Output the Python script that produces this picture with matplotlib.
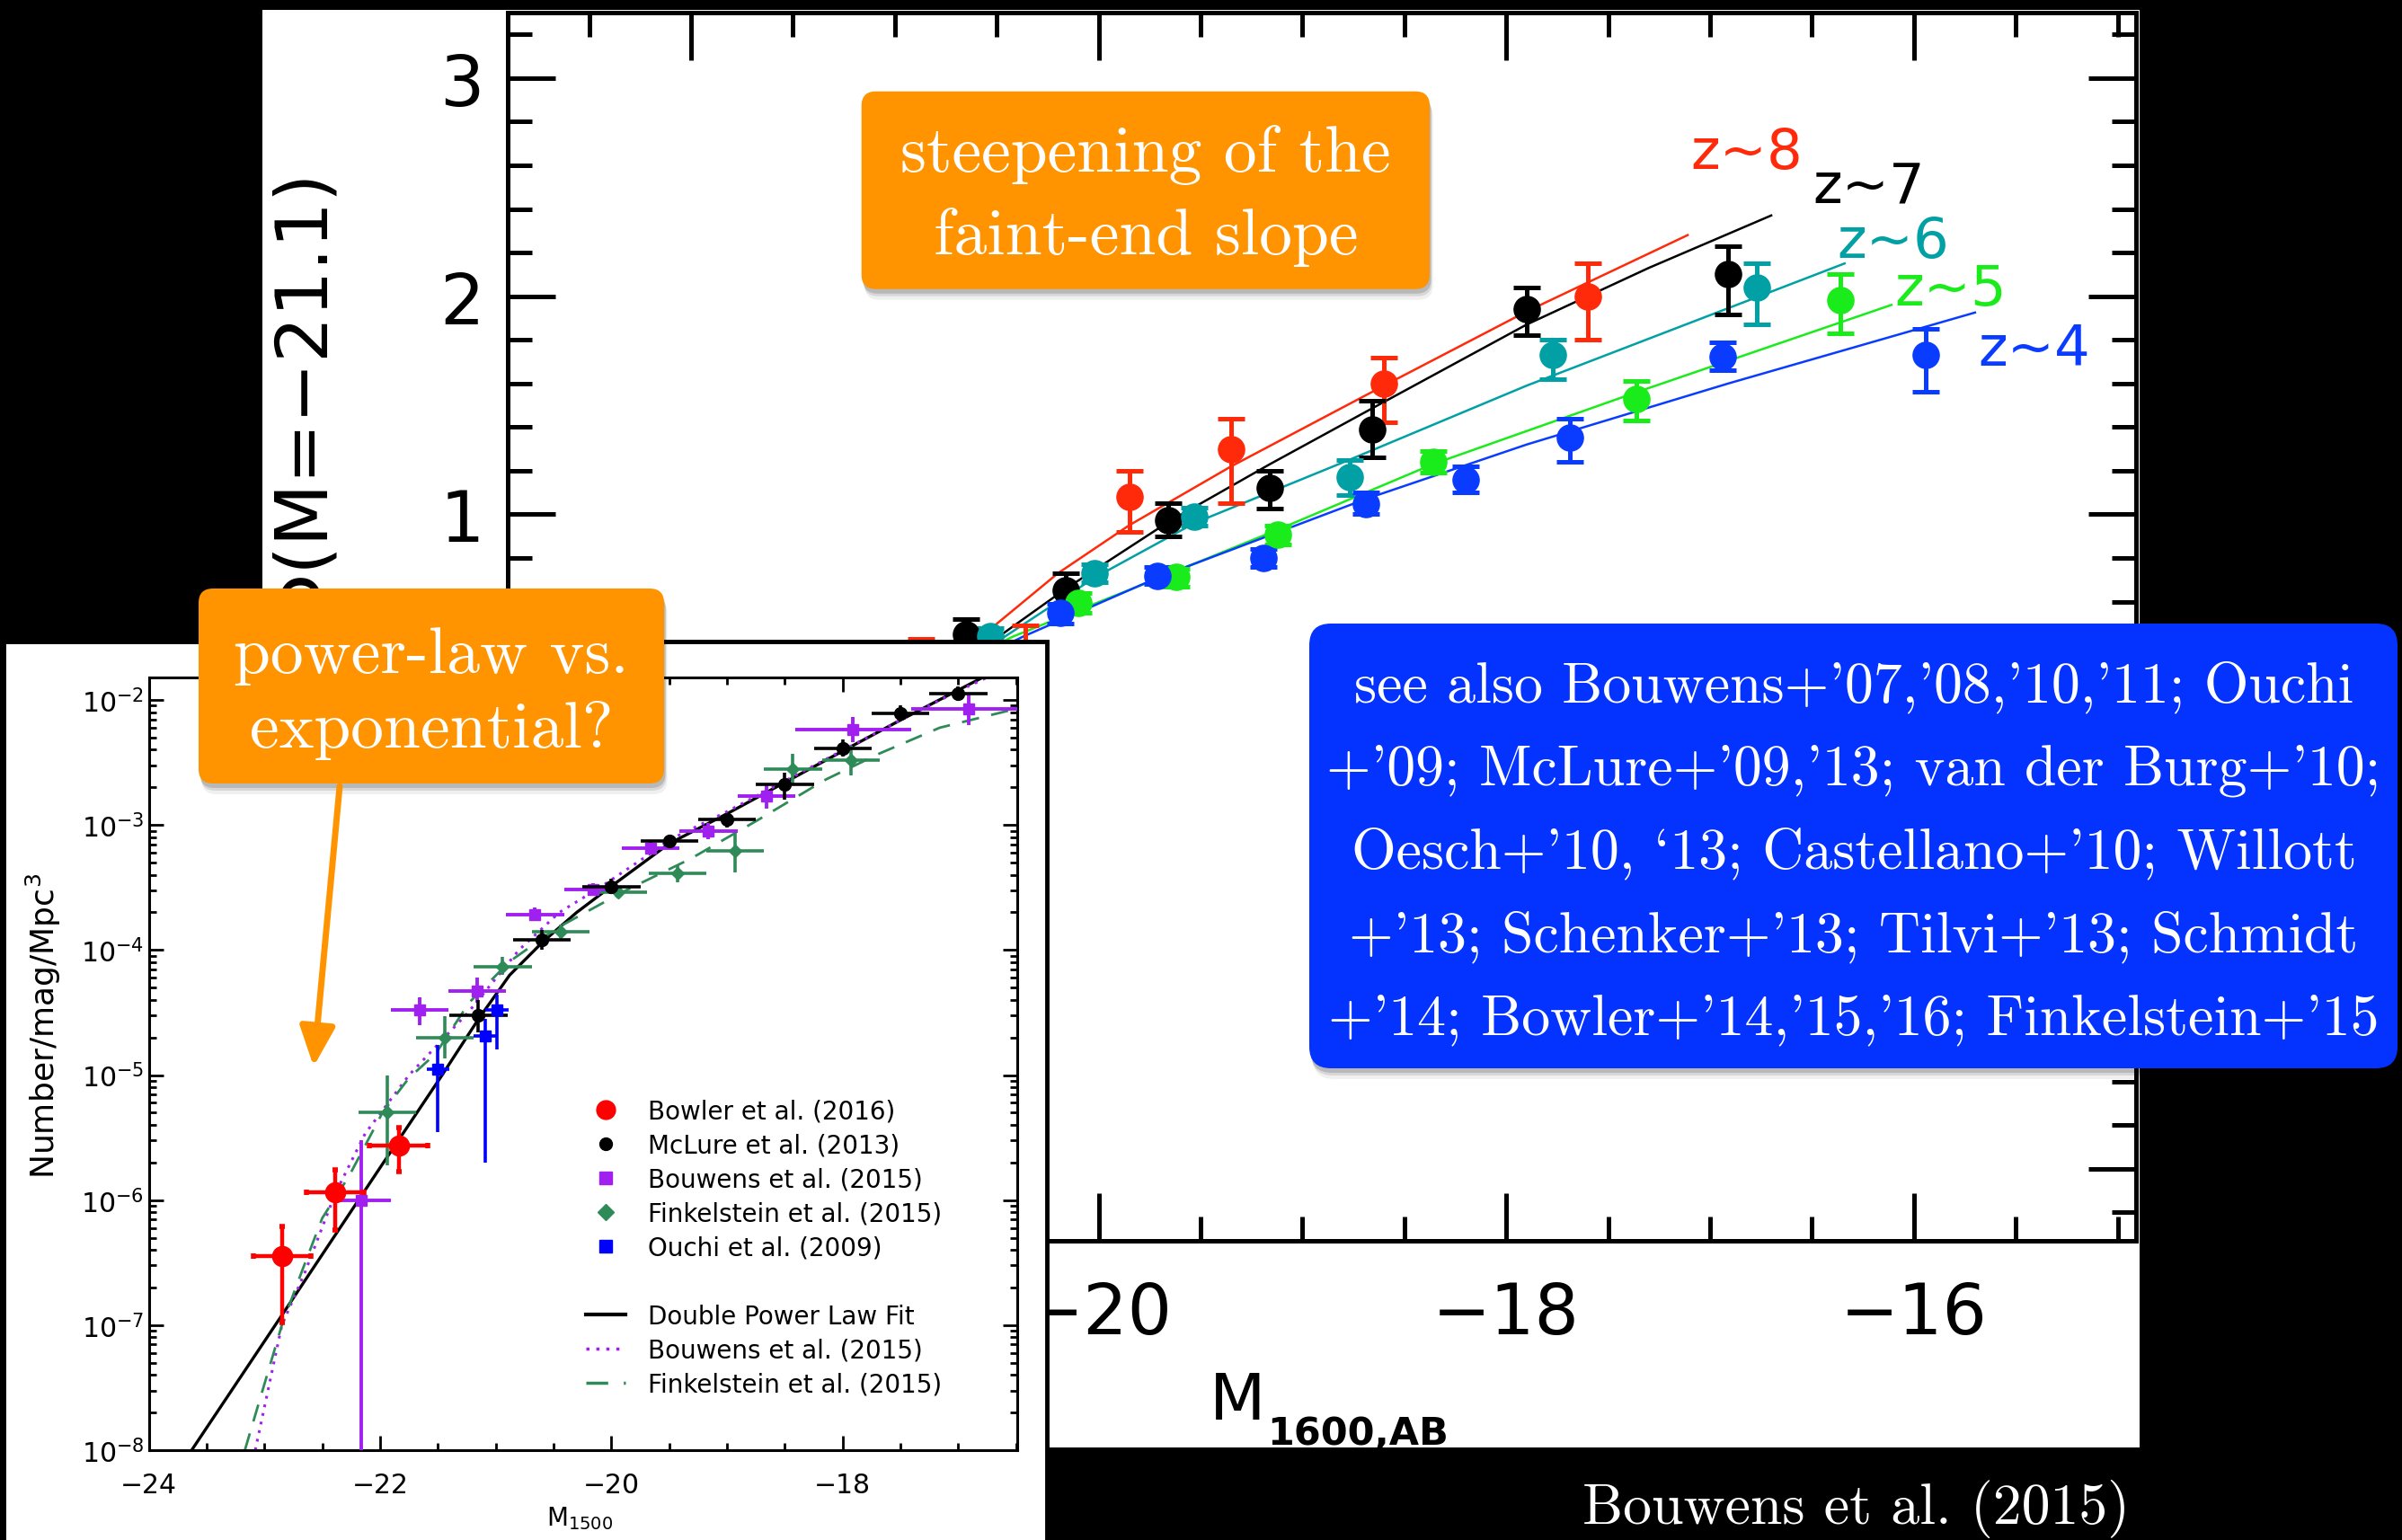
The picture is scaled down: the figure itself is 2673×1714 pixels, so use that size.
import numpy as np
import matplotlib
matplotlib.use("Agg")
import matplotlib.pyplot as plt
from matplotlib.patches import Rectangle, FancyBboxPatch, FancyArrowPatch
from matplotlib.lines import Line2D
from matplotlib.transforms import IdentityTransform
from matplotlib import ticker

plt.rcParams['font.family'] = ['DejaVu Sans']

W, H, DPI = 2673, 1715, 100

# ================= main panel data: Phi(M) / Phi(M=-21.1) =================
z8_M   = [-20.87, -20.36, -19.85, -19.35, -18.60, -17.60]
z8_val = [0.20, 0.30, 1.08, 1.30, 1.60, 2.00]
z8_lo  = [-0.03, 0.11, 0.92, 1.05, 1.42, 1.80]
z8_hi  = [0.43, 0.49, 1.20, 1.44, 1.72, 2.15]

z7_M   = [-20.65, -20.16, -19.66, -19.16, -18.66, -17.90, -16.91]
z7_val = [0.45, 0.65, 0.975, 1.12, 1.39, 1.94, 2.10]
z7_lo  = [0.38, 0.55, 0.90, 1.025, 1.26, 1.82, 1.915]
z7_hi  = [0.52, 0.73, 1.05, 1.20, 1.52, 2.04, 2.23]

z6_M   = [-20.53, -20.02, -19.53, -18.77, -17.77, -16.77]
z6_val = [0.44, 0.73, 0.99, 1.17, 1.73, 2.04]
z6_lo  = [0.40, 0.69, 0.95, 1.09, 1.62, 1.87]
z6_hi  = [0.48, 0.77, 1.03, 1.25, 1.80, 2.15]

z5_M   = [-20.10, -19.62, -19.12, -18.36, -17.36, -16.36]
z5_val = [0.595, 0.712, 0.907, 1.241, 1.530, 1.984]
z5_lo  = [0.55, 0.67, 0.86, 1.19, 1.43, 1.83]
z5_hi  = [0.64, 0.75, 0.95, 1.29, 1.61, 2.10]

z4_M   = [-20.19, -19.71, -19.19, -18.69, -18.20, -17.69, -16.94, -15.94]
z4_val = [0.547, 0.719, 0.801, 1.049, 1.159, 1.351, 1.722, 1.729]
z4_lo  = [0.50, 0.68, 0.76, 1.00, 1.10, 1.24, 1.66, 1.56]
z4_hi  = [0.59, 0.76, 0.84, 1.10, 1.22, 1.44, 1.79, 1.85]

z8_fit_M = [-21.00, -20.55, -20.20, -19.85, -19.35, -18.60, -17.90, -17.11]
z8_fit   = [0.05, 0.46, 0.73, 0.95, 1.22, 1.59, 1.93, 2.28]
z7_fit_M = [-20.90, -20.46, -20.16, -19.65, -19.16, -18.65, -17.90, -17.30, -16.70]
z7_fit   = [0.12, 0.46, 0.66, 0.97, 1.23, 1.49, 1.87, 2.13, 2.37]
z6_fit_M = [-20.90, -20.46, -20.02, -19.53, -18.77, -17.90, -16.34]
z6_fit   = [0.15, 0.44, 0.71, 0.96, 1.25, 1.59, 2.15]
z5_fit_M = [-20.90, -20.42, -19.62, -19.12, -18.36, -17.36, -16.11]
z5_fit   = [0.22, 0.44, 0.74, 0.93, 1.23, 1.56, 1.96]
z4_fit_M = [-20.90, -20.37, -19.71, -18.69, -17.90, -16.91, -15.70]
z4_fit   = [0.20, 0.44, 0.71, 1.07, 1.32, 1.60, 1.925]

z_names = ['z~8', 'z~7', 'z~6', 'z~5', 'z~4']
z_colors = ['#ff2a0a', '#000000', '#00a0a4', '#1aeb1a', '#0a3cff']
z_label_M = [-16.82, -16.22, -16.10, -15.82, -15.41]
z_label_y = [2.657, 2.50, 2.25, 2.03, 1.757]

# ================= inset data: UV LF at z~7 =================
bowler_M   = [-22.85, -22.39, -21.84]
bowler_phi = [3.56e-7, 1.16e-6, 2.73e-6]
bowler_lo  = [1.04e-7, 5.75e-7, 1.70e-6]
bowler_hi  = [6.2e-7, 1.76e-6, 3.8e-6]

mclure_M   = [-21.15, -20.60, -20.00, -19.50, -19.00, -18.50, -18.00, -17.50, -17.00]
mclure_phi = [3.0e-5, 1.2e-4, 3.2e-4, 7.5e-4, 1.1e-3, 2.1e-3, 4.1e-3, 7.8e-3, 1.12e-2]
mclure_lo  = [2.2e-5, 1.0e-4, 2.8e-4, 6.8e-4, 0.95e-3, 1.6e-3, 3.5e-3, 6.8e-3, 0.98e-2]
mclure_hi  = [4.0e-5, 1.45e-4, 3.7e-4, 8.3e-4, 1.25e-3, 2.6e-3, 4.8e-3, 9.0e-3, 1.28e-2]

bouw_M    = [-22.16, -21.66, -21.16, -20.66, -20.16, -19.66, -19.16, -18.66, -17.91, -16.91]
bouw_phi  = [1.0e-6, 3.3e-5, 4.7e-5, 1.93e-4, 3.05e-4, 6.5e-4, 8.9e-4, 1.71e-3, 5.8e-3, 8.5e-3]
bouw_lo   = [1.0e-9, 2.5e-5, 3.8e-5, 1.7e-4, 2.7e-4, 5.8e-4, 7.7e-4, 1.35e-3, 4.6e-3, 6.3e-3]
bouw_hi   = [3.0e-6, 4.2e-5, 6.0e-5, 2.2e-4, 3.45e-4, 7.3e-4, 1.03e-3, 2.1e-3, 7.3e-3, 1.1e-2]
bouw_xerr = [0.25, 0.25, 0.25, 0.25, 0.25, 0.25, 0.25, 0.25, 0.5, 0.5]

fink_M   = [-21.94, -21.44, -20.94, -20.44, -19.94, -19.43, -18.93, -18.43, -17.93]
fink_phi = [5.0e-6, 2.0e-5, 7.4e-5, 1.4e-4, 2.9e-4, 4.1e-4, 6.2e-4, 2.8e-3, 3.3e-3]
fink_lo  = [1.9e-6, 1.35e-5, 6.3e-5, 1.25e-4, 2.6e-4, 3.5e-4, 4.2e-4, 2.1e-3, 2.5e-3]
fink_hi  = [1.0e-5, 2.95e-5, 8.8e-5, 1.6e-4, 3.2e-4, 4.8e-4, 8.5e-4, 3.7e-3, 4.3e-3]

ouchi_M   = [-21.50, -21.09, -20.99]
ouchi_phi = [1.12e-5, 2.05e-5, 3.3e-5]
ouchi_lo  = [3.5e-6, 2.0e-6, 1.6e-5]
ouchi_hi  = [1.75e-5, 2.8e-5, 4.4e-5]

dpl_M   = [-23.63, -22.85, -22.00, -21.48, -21.15, -20.88, -20.59, -20.30, -20.00,
           -19.50, -19.00, -18.50, -18.00, -17.50, -17.00, -16.75]
dpl_phi = [1.0e-8, 1.2e-7, 1.82e-6, 9.5e-6, 2.8e-5, 6.3e-5, 1.17e-4, 2.0e-4, 3.24e-4,
           7.1e-4, 1.23e-3, 2.19e-3, 3.9e-3, 6.9e-3, 1.2e-2, 1.58e-2]

bfit_M   = [-23.08, -22.85, -22.65, -22.39, -22.13, -21.75, -21.24, -20.80, -20.45,
            -20.10, -19.70, -19.50, -19.00, -18.50, -18.00, -17.50, -17.00, -16.76]
bfit_phi = [1.0e-8, 1.0e-7, 2.65e-7, 1.12e-6, 3.4e-6, 1.0e-5, 3.16e-5, 1.0e-4, 2.0e-4,
            3.16e-4, 5.6e-4, 7.6e-4, 1.28e-3, 2.25e-3, 3.95e-3, 6.9e-3, 1.18e-2, 1.5e-2]

ffit_M   = [-23.17, -22.85, -22.67, -22.50, -22.27, -21.98, -21.75, -21.52, -21.23,
            -20.88, -20.47, -19.89, -19.31, -18.73, -18.15, -17.69, -17.16, -16.50]
ffit_phi = [1.0e-8, 1.0e-7, 2.8e-7, 7.2e-7, 1.55e-6, 5.0e-6, 9.5e-6, 1.48e-5, 3.8e-5,
            8.1e-5, 1.5e-4, 2.95e-4, 5.4e-4, 1.1e-3, 2.3e-3, 3.7e-3, 6.0e-3, 8.5e-3]

ORANGE = '#ff9300'
BLUE = '#0433ff'
PURPLE = '#a020f0'
SEAGREEN = '#2e8b57'

ID = IdentityTransform()

fig = plt.figure(figsize=(W / DPI, H / DPI), dpi=DPI, facecolor='black')

# white panel behind the main plot
fig.add_artist(Rectangle((292, H - 1612), 2381 - 292, 1600, transform=ID,
                         fc='white', ec='none', zorder=-1))

# ---------------- main axes ----------------
ax = fig.add_axes([565 / W, 1 - 1382 / H, (2377 - 565) / W, (1382 - 15) / H], zorder=0)
ax.set_facecolor('white')
ax.set_xlim(-22.9, -14.91)
ax.set_ylim(-2.33, 3.30)
ax.xaxis.set_major_locator(ticker.MultipleLocator(2))
ax.xaxis.set_minor_locator(ticker.MultipleLocator(0.5))
ax.yaxis.set_major_locator(ticker.MultipleLocator(1))
ax.yaxis.set_minor_locator(ticker.MultipleLocator(0.2))


def fmt_num(v):
    return f'{v:.0f}'.replace('-', '\u2212')


# labels that sit under the inset panel are not drawn
ax.xaxis.set_major_formatter(ticker.FuncFormatter(lambda v, p: fmt_num(v) if v > -21 else ''))
ax.yaxis.set_major_formatter(ticker.FuncFormatter(lambda v, p: fmt_num(v) if v > 0.5 else ''))
ax.tick_params(which='both', direction='in', top=True, right=True, width=3.6, color='black')
ax.tick_params(which='major', length=38, labelsize=56)
ax.tick_params(which='minor', length=19.5)
ax.tick_params(axis='x', pad=31)
ax.tick_params(axis='y', pad=19)
for sp in ax.spines.values():
    sp.set_linewidth(3.6)

series = [(z8_M, z8_val, z8_lo, z8_hi, z8_fit_M, z8_fit),
          (z7_M, z7_val, z7_lo, z7_hi, z7_fit_M, z7_fit),
          (z6_M, z6_val, z6_lo, z6_hi, z6_fit_M, z6_fit),
          (z5_M, z5_val, z5_lo, z5_hi, z5_fit_M, z5_fit),
          (z4_M, z4_val, z4_lo, z4_hi, z4_fit_M, z4_fit)]
for (M, v, lo, hi, fM, fv), c, name, lx, ly in zip(series, z_colors, z_names, z_label_M, z_label_y):
    ax.plot(fM, fv, color=c, lw=1.8, zorder=2)
    v = np.array(v); lo = np.array(lo); hi = np.array(hi)
    ax.errorbar(M, v, yerr=[v - lo, hi - v], fmt='o', color=c, ms=21,
                elinewidth=3.6, capsize=11, capthick=3.6, zorder=3)
    ax.text(lx, ly, name, color=c, fontsize=45, ha='center', va='center')

fig.text(338, H - 188, 'Φ(M=−21.1)', rotation=90, rotation_mode='anchor',
         ha='right', va='center', fontsize=58, transform=ID, zorder=1)
fig.text(1346, H - 1580, 'M', fontsize=52, ha='left', va='baseline', transform=ID, zorder=1)
fig.text(1410, H - 1608, '1600,AB', fontsize=31, fontweight='bold', ha='left',
         va='baseline', transform=ID, zorder=1)

# ---------------- inset ----------------
fig.add_artist(Rectangle((4, H - 1720), 1161, 1005, transform=ID,
                         fc='white', ec='black', lw=3.5, zorder=2))
ax_in = fig.add_axes([165.7 / W, 1 - 1615 / H, (1132 - 165.7) / W, (1615 - 755) / H], zorder=3)
ax_in.set_facecolor('white')
ax_in.set_yscale('log')
ax_in.set_xlim(-24, -16.49)
ax_in.set_ylim(1e-8, 10 ** -1.82)
ax_in.xaxis.set_major_locator(ticker.MultipleLocator(2))
ax_in.xaxis.set_minor_locator(ticker.MultipleLocator(0.5))
ax_in.yaxis.set_major_locator(ticker.LogLocator(base=10, numticks=20))
ax_in.yaxis.set_minor_locator(ticker.LogLocator(base=10, subs=np.arange(2, 10), numticks=20))
ax_in.yaxis.set_minor_formatter(ticker.NullFormatter())
ax_in.tick_params(which='both', direction='in', top=True, right=True, width=2.0)
ax_in.tick_params(which='major', length=11.5, labelsize=21.5)
ax_in.tick_params(which='minor', length=6)
ax_in.tick_params(axis='x', pad=17)
ax_in.tick_params(axis='y', pad=4)
for sp in ax_in.spines.values():
    sp.set_linewidth(2.2)

ax_in.plot(dpl_M, dpl_phi, color='black', lw=2.4, zorder=2)
ax_in.plot(bfit_M, bfit_phi, color=PURPLE, lw=2.2, ls=(0, (1, 2.2)), zorder=2)
ax_in.plot(ffit_M, ffit_phi, color=SEAGREEN, lw=2.0, ls=(0, (7, 5)), zorder=2)


def eb(M, phi, lo, hi, xerr, **kw):
    phi = np.array(phi); lo = np.array(lo); hi = np.array(hi)
    ax_in.errorbar(M, phi, xerr=xerr, yerr=[phi - lo, hi - phi], **kw)


eb(fink_M, fink_phi, fink_lo, fink_hi, 0.25, fmt='D', color=SEAGREEN, ms=7,
   elinewidth=2.6, capsize=0, zorder=3)
eb(bouw_M, bouw_phi, bouw_lo, bouw_hi, bouw_xerr, fmt='s', color=PURPLE, ms=9,
   elinewidth=2.8, capsize=0, zorder=3)
eb(mclure_M, mclure_phi, mclure_lo, mclure_hi, 0.25, fmt='o', color='black', ms=10,
   elinewidth=2.6, capsize=0, zorder=4)
eb(ouchi_M, ouchi_phi, ouchi_lo, ouchi_hi, 0.1, fmt='s', color='#0000ff', ms=9,
   elinewidth=2.6, capsize=0, zorder=4)
eb(bowler_M, bowler_phi, bowler_lo, bowler_hi, 0.25, fmt='o', color='#ff0000', ms=16,
   elinewidth=3.2, capsize=2.5, capthick=4, zorder=5)

handles = [Line2D([], [], ls='none', marker='o', ms=15, color='#ff0000'),
           Line2D([], [], ls='none', marker='o', ms=10, color='black'),
           Line2D([], [], ls='none', marker='s', ms=10, color=PURPLE),
           Line2D([], [], ls='none', marker='D', ms=9, color=SEAGREEN),
           Line2D([], [], ls='none', marker='s', ms=10, color='#0000ff'),
           Line2D([], [], ls='none'),
           Line2D([], [], color='black', lw=3),
           Line2D([], [], color=PURPLE, lw=2.5, ls=(0, (1, 2.2))),
           Line2D([], [], color=SEAGREEN, lw=2.5, ls=(0, (7, 5)))]
labels = ['Bowler et al. (2016)', 'McLure et al. (2013)', 'Bouwens et al. (2015)',
          'Finkelstein et al. (2015)', 'Ouchi et al. (2009)', '',
          'Double Power Law Fit', 'Bouwens et al. (2015)', 'Finkelstein et al. (2015)']
ax_in.legend(handles, labels, loc='upper left', bbox_to_anchor=(652, H - 1224),
             bbox_transform=ID, frameon=False, fontsize=20, handlelength=1.6,
             handletextpad=0.9, labelspacing=0.36, borderpad=0, borderaxespad=0)

fig.text(48, H - 1142, 'Number/mag/Mpc$^3$', rotation=90, ha='center', va='center',
         fontsize=26, transform=ID, zorder=4)
fig.text(645, H - 1690, 'M$_{1500}$', fontsize=20, ha='center', va='center',
         transform=ID, zorder=4)


# ---------------- annotation boxes ----------------
def rbox(x0, y0, x1, y1, color, r, z):
    for k, a in [(12, 0.06), (8, 0.10), (5, 0.14)]:
        fig.add_artist(FancyBboxPatch((x0 + k * 0.3, H - y1 - k), x1 - x0, y1 - y0,
                                      boxstyle=f'round,pad=0,rounding_size={r}',
                                      transform=ID, fc=(0, 0, 0, a), ec='none', zorder=z - 0.1))
    fig.add_artist(FancyBboxPatch((x0, H - y1), x1 - x0, y1 - y0,
                                  boxstyle=f'round,pad=0,rounding_size={r}',
                                  transform=ID, fc=color, ec='none', zorder=z))


SERIF = ['cmr10', 'DejaVu Serif']

rbox(958.7, 102.7, 1591, 322.7, ORANGE, 16, 5)
fig.text(1275, H - 218, 'steepening of the\nfaint-end slope', color='white',
         fontsize=53, family=SERIF, ha='center', va='center', multialignment='center',
         linespacing=1.48, transform=ID, zorder=6)

rbox(221, 656, 739, 873, ORANGE, 16, 5)
fig.text(480, H - 772, 'power-law vs.\nexponential?', color='white',
         fontsize=53, family=SERIF, ha='center', va='center', multialignment='center',
         linespacing=1.33, transform=ID, zorder=6)

fig.add_artist(FancyArrowPatch((378, H - 876), (349, H - 1188), transform=ID,
                               arrowstyle='-|>,head_length=27,head_width=12',
                               color=ORANGE, lw=5, shrinkA=0, shrinkB=0, zorder=5))

rbox(1457, 695, 2668, 1190, BLUE, 24, 5)
see_also = ("see also Bouwens+'07,'08,'10,'11; Ouchi\n"
            "+'09; McLure+'09,'13; van der Burg+'10;\n"
            "Oesch+'10, `13; Castellano+'10; Willott\n"
            "+'13; Schenker+'13; Tilvi+'13; Schmidt\n"
            "+'14; Bowler+'14,'15,'16; Finkelstein+'15")
fig.text(2063, H - 950, see_also, color='white', fontsize=46, family=SERIF,
         ha='center', va='center', multialignment='center', linespacing=1.75,
         transform=ID, zorder=6)

fig.text(2370, H - 1680, 'Bouwens et al. (2015)', color='white', fontsize=46,
         family=SERIF, ha='right', va='center', transform=ID, zorder=6)

fig.savefig('out.png', dpi=DPI, facecolor='black')
